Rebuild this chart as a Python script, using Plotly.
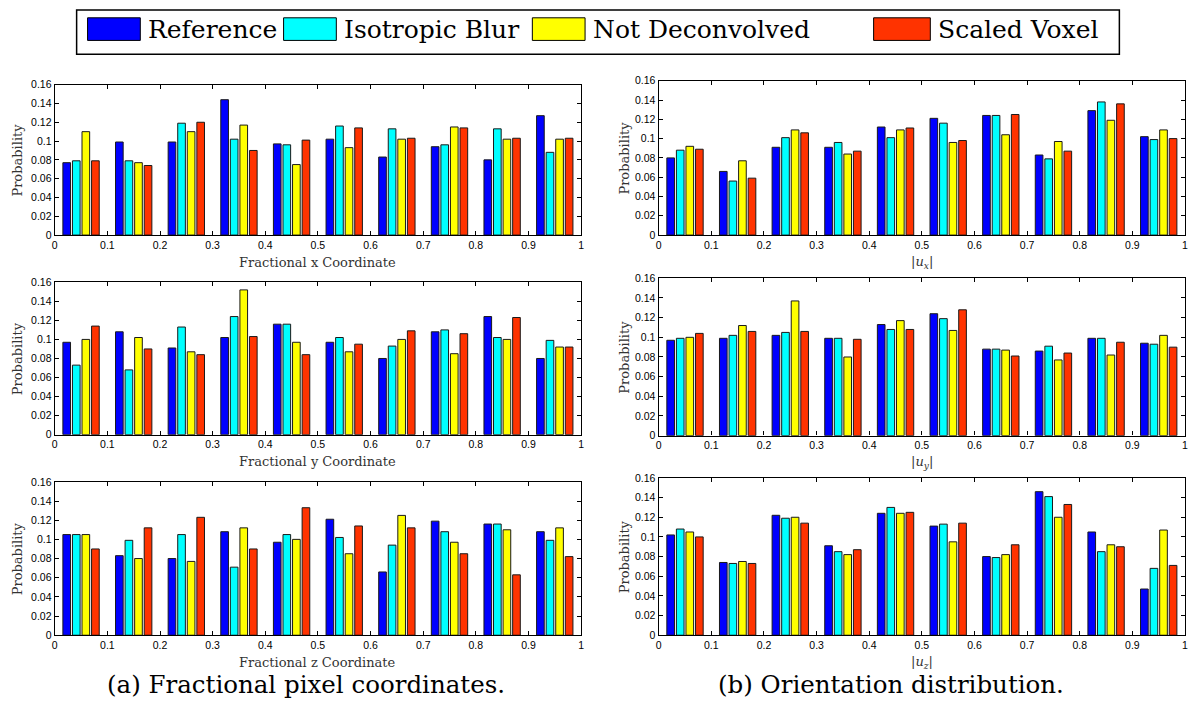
import plotly.graph_objects as go

# Histogram bin centres and axis ticks
bin_centers = [0.05, 0.15, 0.25, 0.35, 0.45, 0.55, 0.65, 0.75, 0.85, 0.95]
x_tickvals = [0, 0.1, 0.2, 0.3, 0.4, 0.5, 0.6, 0.7, 0.8, 0.9, 1]
x_ticktext = ["0", "0.1", "0.2", "0.3", "0.4", "0.5", "0.6", "0.7", "0.8", "0.9", "1"]
y_tickvals = [0, 0.02, 0.04, 0.06, 0.08, 0.10, 0.12, 0.14, 0.16]
y_ticktext = ["0", "0.02", "0.04", "0.06", "0.08", "0.1", "0.12", "0.14", "0.16"]

series_names = ["Reference", "Isotropic Blur", "Not Deconvolved", "Scaled Voxel"]
series_colors = ["#0000FF", "#00FFFF", "#FFFF00", "#FF3300"]

# (a) Fractional pixel coordinates
fx_ref = [0.077, 0.099, 0.099, 0.144, 0.097, 0.102, 0.083, 0.094, 0.080, 0.127]
fx_iso = [0.079, 0.079, 0.119, 0.102, 0.096, 0.116, 0.113, 0.096, 0.113, 0.088]
fx_nd = [0.110, 0.077, 0.110, 0.117, 0.075, 0.093, 0.102, 0.115, 0.102, 0.102]
fx_sv = [0.079, 0.074, 0.120, 0.090, 0.101, 0.114, 0.103, 0.114, 0.103, 0.103]

fy_ref = [0.097, 0.108, 0.091, 0.102, 0.116, 0.097, 0.080, 0.108, 0.124, 0.080]
fy_iso = [0.073, 0.068, 0.113, 0.124, 0.116, 0.102, 0.093, 0.110, 0.102, 0.099]
fy_nd = [0.100, 0.102, 0.087, 0.152, 0.097, 0.087, 0.100, 0.085, 0.100, 0.092]
fy_sv = [0.114, 0.090, 0.084, 0.103, 0.084, 0.095, 0.109, 0.106, 0.123, 0.092]

fz_ref = [0.105, 0.083, 0.080, 0.108, 0.097, 0.121, 0.066, 0.119, 0.116, 0.108]
fz_iso = [0.105, 0.099, 0.105, 0.071, 0.105, 0.102, 0.094, 0.108, 0.116, 0.099]
fz_nd = [0.105, 0.080, 0.077, 0.112, 0.100, 0.085, 0.125, 0.097, 0.110, 0.112]
fz_sv = [0.090, 0.112, 0.123, 0.090, 0.133, 0.114, 0.112, 0.085, 0.063, 0.082]

# (b) Orientation distribution
ux_ref = [0.080, 0.066, 0.091, 0.091, 0.112, 0.121, 0.124, 0.083, 0.129, 0.102]
ux_iso = [0.088, 0.056, 0.101, 0.096, 0.101, 0.116, 0.124, 0.079, 0.138, 0.099]
ux_nd = [0.092, 0.077, 0.109, 0.084, 0.109, 0.096, 0.104, 0.097, 0.119, 0.109]
ux_sv = [0.089, 0.059, 0.106, 0.087, 0.111, 0.098, 0.125, 0.087, 0.136, 0.100]

uy_ref = [0.097, 0.099, 0.102, 0.099, 0.113, 0.124, 0.088, 0.086, 0.099, 0.094]
uy_iso = [0.099, 0.102, 0.105, 0.099, 0.108, 0.119, 0.088, 0.091, 0.099, 0.093]
uy_nd = [0.100, 0.112, 0.137, 0.080, 0.117, 0.107, 0.087, 0.077, 0.082, 0.102]
uy_sv = [0.104, 0.106, 0.106, 0.098, 0.108, 0.128, 0.081, 0.084, 0.095, 0.090]

uz_ref = [0.102, 0.074, 0.122, 0.091, 0.124, 0.111, 0.080, 0.146, 0.105, 0.047]
uz_iso = [0.108, 0.073, 0.119, 0.085, 0.130, 0.113, 0.079, 0.141, 0.085, 0.068]
uz_nd = [0.105, 0.075, 0.120, 0.082, 0.124, 0.095, 0.082, 0.120, 0.092, 0.107]
uz_sv = [0.100, 0.073, 0.114, 0.087, 0.125, 0.114, 0.092, 0.133, 0.090, 0.071]

x_labels = ["Fractional x Coordinate", "Fractional y Coordinate", "Fractional z Coordinate",
            "|<i>u<sub>x</sub></i>|", "|<i>u<sub>y</sub></i>|", "|<i>u<sub>z</sub></i>|"]
captions = ["(a) Fractional pixel coordinates.", "(b) Orientation distribution."]

panels = [
    [fx_ref, fx_iso, fx_nd, fx_sv],
    [fy_ref, fy_iso, fy_nd, fy_sv],
    [fz_ref, fz_iso, fz_nd, fz_sv],
    [ux_ref, ux_iso, ux_nd, ux_sv],
    [uy_ref, uy_iso, uy_nd, uy_sv],
    [uz_ref, uz_iso, uz_nd, uz_sv],
]

W, H = 1196, 713


def px(x):
    return x / W


def py(y):
    return 1 - y / H


# Axes boxes in pixels: (left, right, top, bottom)
boxes = [
    (52, 581, 80, 233), (52, 581, 281, 436), (52, 581, 484, 640),
    (659, 1188, 76, 233), (659, 1188, 277, 437), (659, 1188, 480, 640),
]

serif = "DejaVu Serif"
sans = "Liberation Sans"

fig = go.Figure()
annotations = []
shapes = []
layout_axes = {}

for i, (vals, box) in enumerate(zip(panels, boxes)):
    n = "" if i == 0 else str(i + 1)
    for name, color, v in zip(series_names, series_colors, vals):
        fig.add_trace(go.Bar(
            x=bin_centers, y=v, name=name, showlegend=False,
            marker=dict(color=color, line=dict(color="#1a1a1a", width=1)),
            xaxis="x" + n, yaxis="y" + n,
        ))
    l, r, t, b = box
    common = dict(
        showline=True, linecolor="black", linewidth=1.3, mirror="ticks",
        ticks="inside", ticklen=4, tickwidth=1, tickcolor="black",
        showgrid=False, zeroline=False, fixedrange=True,
        tickfont=dict(family=sans, size=10.5, color="black"),
    )
    layout_axes["xaxis" + n] = dict(
        domain=[px(l), px(r)], anchor="y" + n, range=[0, 1],
        tickvals=x_tickvals, ticktext=x_ticktext, **common)
    layout_axes["yaxis" + n] = dict(
        domain=[py(b), py(t)], anchor="x" + n, range=[0, 0.16],
        tickvals=y_tickvals, ticktext=y_ticktext, **common)
    xd = "x" + n + " domain"
    yd = "y" + n + " domain"
    annotations.append(dict(
        text=x_labels[i], xref=xd, yref=yd, x=0.5, y=0, xanchor="center",
        yanchor="middle", yshift=-27, showarrow=False,
        font=dict(family=serif, size=13, color="#333333")))
    annotations.append(dict(
        text="Probability", xref=xd, yref=yd, x=0, y=0.5, xanchor="center",
        yanchor="middle", xshift=-37 if i < 3 else -34, textangle=-90,
        showarrow=False, font=dict(family=serif, size=13, color="#333333")))

# Legend frame with wide swatches
shapes.append(dict(type="rect", xref="paper", yref="paper",
                   x0=px(74), x1=px(1122), y0=py(49), y1=py(4),
                   line=dict(color="black", width=1.5), fillcolor="white", layer="below"))
swatch_left = [85, 282, 532, 875]
swatch_w = [53, 53, 53, 57]
for name, color, sl, sw in zip(series_names, series_colors, swatch_left, swatch_w):
    shapes.append(dict(type="rect", xref="paper", yref="paper",
                       x0=px(sl), x1=px(sl + sw), y0=py(35), y1=py(12),
                       line=dict(color="black", width=1), fillcolor=color))
    annotations.append(dict(
        text=name, xref="paper", yref="paper", x=px(sl + sw + 6), y=py(24),
        xanchor="left", yanchor="middle", showarrow=False,
        font=dict(family=serif, size=25, color="black")))

# Sub-figure captions
for cap, cx in zip(captions, [305, 892]):
    annotations.append(dict(
        text=cap, xref="paper", yref="paper", x=px(cx), y=py(690),
        xanchor="center", yanchor="middle", showarrow=False,
        font=dict(family=serif, size=24.5, color="black")))

fig.update_layout(
    width=W, height=H, margin=dict(l=0, r=0, t=0, b=0),
    paper_bgcolor="white", plot_bgcolor="white",
    barmode="group", bargap=0.273, bargroupgap=0.2,
    annotations=annotations, shapes=shapes, showlegend=False,
    **layout_axes,
)

fig.write_html("out.html")
